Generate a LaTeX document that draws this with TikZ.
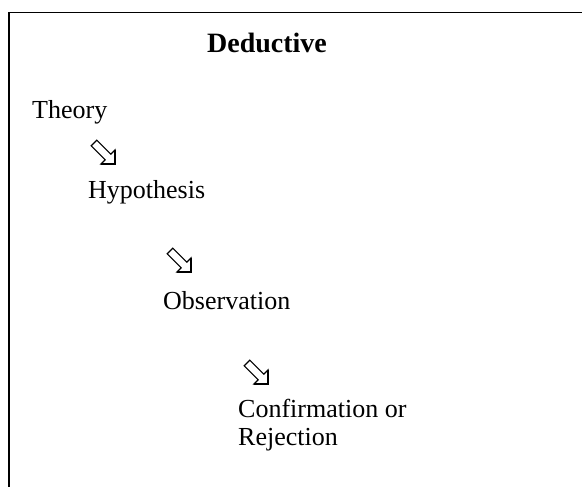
\documentclass[tikz,border=0pt]{standalone}
\usepackage{fontspec}
\setmainfont{Liberation Serif}
\tikzset{
  lbl/.style={anchor=base west, inner sep=0pt, font=\fontsize{26}{31}\selectfont},
  ttl/.style={anchor=base, inner sep=0pt, font=\fontsize{28}{33}\selectfont\bfseries},
  frameline/.style={line width=1.6pt, line cap=rect},
  darrow/.pic={
    \draw[line width=1.1pt, line join=miter]
      (6.8,1.2) -- (20.8,15.2) -- (25,11) -- (25,25) -- (11,25) -- (15.2,20.8) -- (1.2,6.8) -- cycle;
    \draw[line width=2pt, line join=miter] (11,25) -- (25,25) -- (25,11);
  }
}
\begin{document}
\begin{tikzpicture}[x=1pt,y=-1pt]
\useasboundingbox (0,0) rectangle (582,487);
\draw[frameline] (9,487) -- (9,12.5) -- (584,12.5);
\node[ttl] (title) at (267,53) {Deductive};
\node[lbl] (theory) at (32,119) {Theory};
\pic at (90,139) {darrow};
\node[lbl] (hyp) at (88,199) {Hypothesis};
\pic at (166,247) {darrow};
\node[lbl] (obs) at (163,309) {Observation};
\pic at (243,359) {darrow};
\node[lbl] (conf) at (238,417) {Confirmation or};
\node[lbl] (rej) at (238,445) {Rejection};
\end{tikzpicture}
\end{document}
